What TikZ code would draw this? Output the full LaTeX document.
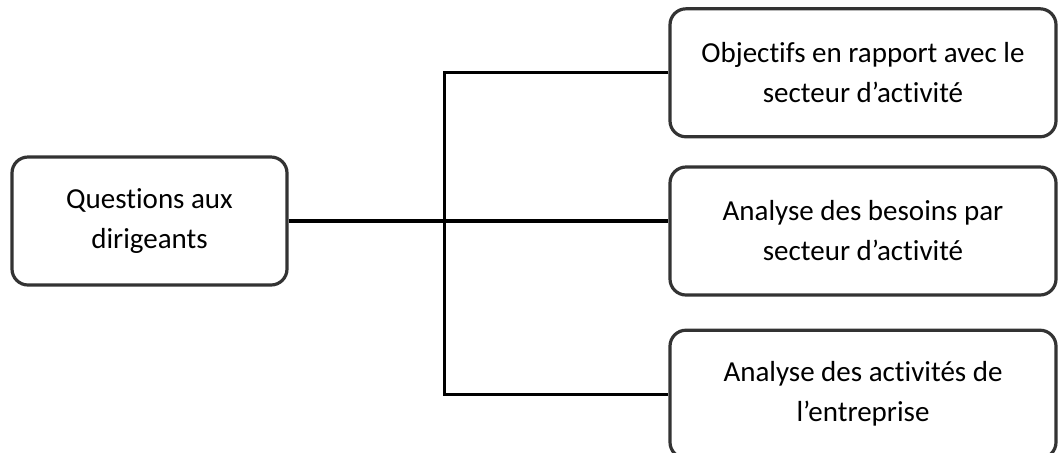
\documentclass[tikz,border=0pt]{standalone}
\usepackage{fontspec}
\setmainfont{Carlito}[Ligatures=NoCommon]
\usetikzlibrary{positioning}

\begin{document}
\begin{tikzpicture}[x=0.5pt, y=-0.5pt, node distance=12pt, line width=1.6pt,
        main/.style = {draw=black!80, rounded corners=8pt, align=center, inner sep=0pt,
                       font=\fontsize{14.5}{20}\selectfont},
        ask/.style = {main, minimum width=137.5pt, minimum height=64pt},
        topic/.style = {main, minimum width=193pt, minimum height=64pt}]
        \useasboundingbox (0,0) rectangle (1059,452);

        \node[ask] (Q) at (149.5,221) {Questions aux\\dirigeants};

        \node[topic] (B) at (863,231) {Analyse des besoins par\\secteur d’activité};
        \node[topic] (O) [above=13.5pt of B] {Objectifs en rapport avec le\\secteur d’activité};
        \node[topic] (A) [below=16pt of B] {Analyse des activités de\\l’entreprise};

        \coordinate[right=78pt of Q.east] (J);

        \draw (Q) -- (J);
        \draw (O.west) -| (J) |- (A.west);
        \draw (J) -- (J -| B.west);
    \end{tikzpicture}
\end{document}
